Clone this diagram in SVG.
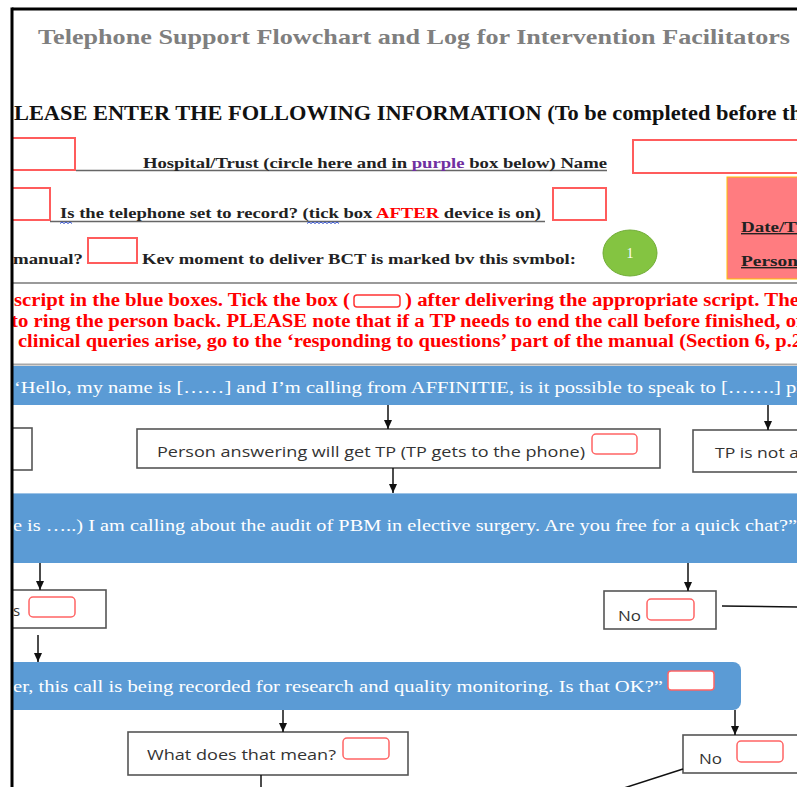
<svg xmlns="http://www.w3.org/2000/svg" width="797" height="787" viewBox="0 0 797 787">
<style>
.serif{font-family:"Liberation Serif","Times New Roman",serif}
.b{font-weight:bold}
.sans{font-family:"Open Sans","Liberation Sans",Arial,sans-serif;fill:#333;font-size:15px}
.box{fill:#fff;stroke:#555;stroke-width:1.6}
.tick{fill:#fff;stroke:#ff6464;stroke-width:1.5}
.field{fill:#fff;stroke:#ff5c5c;stroke-width:2}
.bar{fill:#5b9bd5}
.bt{font-family:"Liberation Serif","Times New Roman",serif;fill:#fff;font-size:16.5px}
.red{fill:#f00;font-size:18px}
.conn{stroke:#111;stroke-width:1.5;fill:none}
.ul{stroke:#666;stroke-width:1.5}
.wavy{stroke:#3050d0;stroke-width:1;fill:none}
</style>
<defs>
<marker id="ah" markerWidth="9" markerHeight="8" refX="9" refY="4" orient="auto" markerUnits="userSpaceOnUse"><path d="M0,0 L9,4 L0,8 z" fill="#111"/></marker>
<clipPath id="pg"><rect x="13" y="10" width="784" height="777"/></clipPath>
</defs>
<rect width="797" height="787" fill="#fff"/>
<g clip-path="url(#pg)">
<g id="n_title"><text class="serif b" x="38" y="44" font-size="21" fill="#7f7f7f" textLength="752" lengthAdjust="spacingAndGlyphs">Telephone Support Flowchart and Log for Intervention Facilitators</text></g>
<g id="n_heading"><text class="serif b" x="14" y="120" font-size="20" fill="#111" textLength="788" lengthAdjust="spacingAndGlyphs">LEASE ENTER THE FOLLOWING INFORMATION (To be completed before th</text></g>
<g id="n_hospital">
<rect class="field" x="3" y="138" width="72" height="32"/>
<line class="ul" x1="76" y1="170.5" x2="607" y2="170.5"/>
<text class="serif b" x="143" y="168" font-size="14.5" fill="#222" textLength="464" lengthAdjust="spacingAndGlyphs">Hospital/Trust (circle here and in <tspan fill="#7030a0">purple</tspan> box below) Name</text>
<rect class="field" x="633" y="140" width="175" height="33"/>
</g>
<g id="n_record">
<rect class="field" x="3" y="188" width="47" height="32"/>
<line class="ul" x1="50" y1="221.5" x2="545" y2="221.5"/>
<text class="serif b" x="60" y="218" font-size="14.5" fill="#222" textLength="481" lengthAdjust="spacingAndGlyphs">Is the telephone set to record? (tick box <tspan fill="#f00">AFTER</tspan> device is on)</text>
<path class="wavy" d="M60,223.5 l2,-1.5 l2,1.5 l2,-1.5 l2,1.5 l2,-1.5 l2,1.5 M307,223.5 l2,-1.5 l2,1.5 l2,-1.5 l2,1.5 l2,-1.5 l2,1.5 l2,-1.5 l2,1.5 l2,-1.5 l2,1.5 l2,-1.5 l2,1.5 l2,-1.5 l2,1.5 l2,-1.5 l2,1.5"/>
<rect class="field" x="553" y="188" width="53" height="32"/>
</g>
<g id="n_manual">
<text class="serif b" x="13" y="264" font-size="14.5" fill="#222" textLength="70" lengthAdjust="spacingAndGlyphs">manual?</text>
<rect class="field" x="88" y="238" width="49" height="25" stroke-width="1.5"/>
<text class="serif b" x="142" y="264" font-size="14.5" fill="#222" textLength="434" lengthAdjust="spacingAndGlyphs">Kev moment to deliver BCT is marked bv this svmbol:</text>
<ellipse cx="630" cy="253" rx="27" ry="23" fill="#84c441" stroke="#72ad38" stroke-width="1"/>
<text class="serif" x="630" y="258" font-size="14" fill="#fff" text-anchor="middle">1</text>
</g>
<g id="n_datebox">
<rect x="727" y="177" width="80" height="102" fill="#ff7c80" stroke="#ffc000" stroke-width="1"/>
<text class="serif b" x="741" y="232" font-size="14" fill="#222" text-decoration="underline" textLength="56" lengthAdjust="spacingAndGlyphs">Date/T</text>
<text class="serif b" x="741" y="266" font-size="14" fill="#222" text-decoration="underline" textLength="57" lengthAdjust="spacingAndGlyphs">Person</text>
</g>
<line x1="13" y1="283" x2="797" y2="283" stroke="#9a9a9a" stroke-width="2"/>
<g id="n_instructions">
<text class="serif b red" x="14" y="306" textLength="336" lengthAdjust="spacingAndGlyphs">script in the blue boxes. Tick the box (</text>
<rect x="354" y="295" width="46" height="12" rx="3" fill="#fff" stroke="#f33" stroke-width="1.5"/>
<text class="serif b red" x="405" y="306" textLength="394" lengthAdjust="spacingAndGlyphs">) after delivering the appropriate script. The</text>
<text class="serif b red" x="11" y="327" textLength="792" lengthAdjust="spacingAndGlyphs">to ring the person back. PLEASE note that if a TP needs to end the call before finished, of</text>
<text class="serif b red" x="18" y="347" textLength="784" lengthAdjust="spacingAndGlyphs">clinical queries arise, go to the ‘responding to questions’ part of the manual (Section 6, p.2</text>
</g>
<line x1="13" y1="364.5" x2="797" y2="364.5" stroke="#a8a8a8" stroke-width="2"/>
<g id="n_hello">
<rect class="bar" x="13" y="366" width="784" height="39"/>
<text class="bt" x="14" y="393" textLength="788" lengthAdjust="spacingAndGlyphs">‘Hello, my name is [……] and I’m calling from AFFINITIE, is it possible to speak to […….] pl</text>
</g>
<g id="n_left1"><rect class="box" x="-20" y="428" width="52" height="42"/></g>
<g id="n_getTP">
<rect class="box" x="137" y="429" width="523" height="39"/>
<text class="sans" x="157" y="457" textLength="428" lengthAdjust="spacingAndGlyphs">Person answering will get TP (TP gets to the phone)</text>
<rect class="tick" x="592" y="434" width="45" height="20" rx="4"/>
</g>
<g id="n_notavail">
<rect class="box" x="693" y="430" width="120" height="42"/>
<text class="sans" x="715" y="458" textLength="84" lengthAdjust="spacingAndGlyphs">TP is not a</text>
</g>
<g id="n_audit">
<rect class="bar" x="13" y="493" width="784" height="70"/>
<line x1="13" y1="493.5" x2="797" y2="493.5" stroke="#9dc3e6" stroke-width="1"/>
<text class="bt" x="13" y="531" textLength="784" lengthAdjust="spacingAndGlyphs">e is …..) I am calling about the audit of PBM in elective surgery. Are you free for a quick chat?”</text>
</g>
<g id="n_yes1">
<rect class="box" x="-40" y="590" width="146" height="38"/>
<text class="sans" x="13" y="616">s</text>
<rect class="tick" x="29" y="597" width="46" height="20" rx="4"/>
</g>
<g id="n_no1">
<rect class="box" x="604" y="591" width="112" height="38"/>
<text class="sans" x="618" y="621" textLength="23" lengthAdjust="spacingAndGlyphs">No</text>
<rect class="tick" x="647" y="599" width="47" height="21" rx="4"/>
</g>
<g id="n_recorded">
<rect class="bar" x="-20" y="662" width="761" height="48" rx="8"/>
<text class="bt" x="13" y="692" textLength="650" lengthAdjust="spacingAndGlyphs">er, this call is being recorded for research and quality monitoring. Is that OK?”</text>
<rect class="tick" x="668" y="671" width="46" height="19" rx="3"/>
</g>
<g id="n_whatmean">
<rect class="box" x="128" y="732" width="280" height="43"/>
<text class="sans" x="147" y="760" textLength="189" lengthAdjust="spacingAndGlyphs">What does that mean?</text>
<rect class="tick" x="343" y="738" width="46" height="21" rx="4"/>
</g>
<g id="n_no2">
<rect class="box" x="683" y="735" width="130" height="38"/>
<text class="sans" x="699" y="764" textLength="23" lengthAdjust="spacingAndGlyphs">No</text>
<rect class="tick" x="737" y="741" width="46" height="21" rx="4"/>
</g>
<g id="connectors">
<line class="conn" x1="388" y1="405" x2="388" y2="429" marker-end="url(#ah)"/>
<line class="conn" x1="768" y1="405" x2="768" y2="430" marker-end="url(#ah)"/>
<line class="conn" x1="393" y1="468" x2="393" y2="493" marker-end="url(#ah)"/>
<line class="conn" x1="40" y1="563" x2="40" y2="590" marker-end="url(#ah)"/>
<line class="conn" x1="688" y1="563" x2="688" y2="591" marker-end="url(#ah)"/>
<line class="conn" x1="722" y1="606" x2="797" y2="607"/>
<line class="conn" x1="38" y1="635" x2="38" y2="662" marker-end="url(#ah)"/>
<line class="conn" x1="283" y1="710" x2="283" y2="732" marker-end="url(#ah)"/>
<line class="conn" x1="735" y1="710" x2="735" y2="735" marker-end="url(#ah)"/>
<line class="conn" x1="261" y1="775" x2="261" y2="790"/>
<line class="conn" x1="683" y1="769" x2="624" y2="788"/>
</g>
</g>
<g id="frame">
<line x1="12" y1="9" x2="797" y2="9" stroke="#000" stroke-width="3"/>
<line x1="12" y1="7.5" x2="12" y2="787" stroke="#000" stroke-width="3"/>
</g>
</svg>
